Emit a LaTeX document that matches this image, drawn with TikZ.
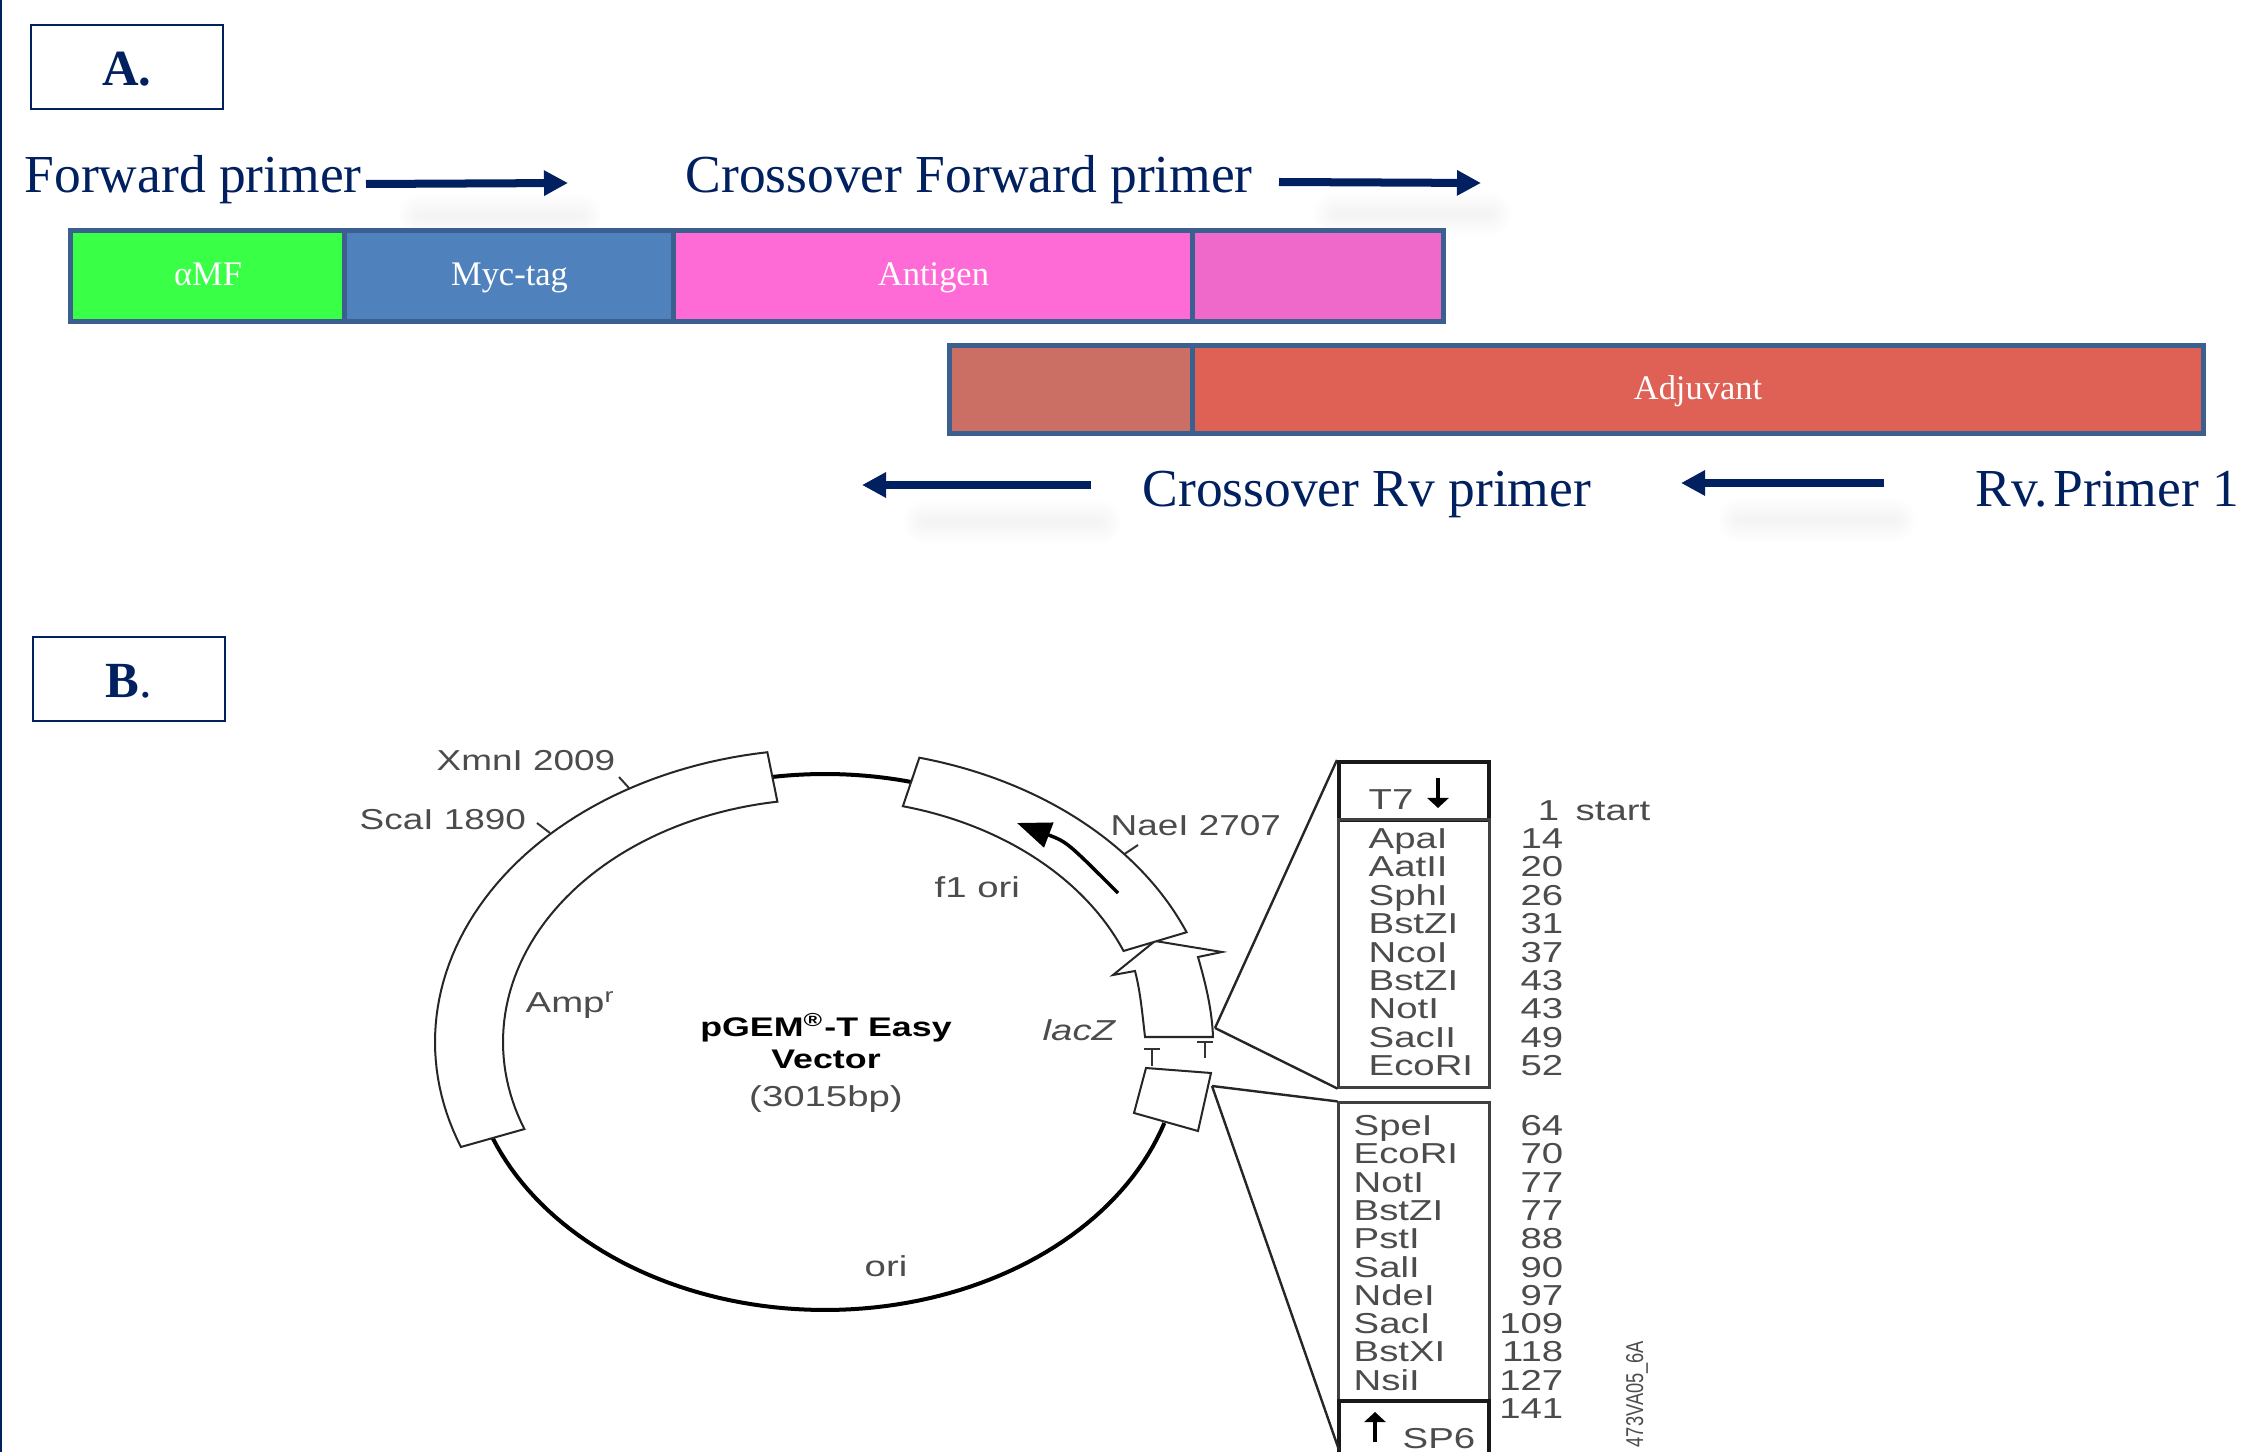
\documentclass[tikz,border=0pt]{standalone}
\usepackage{fontspec}
\usepackage{graphicx}
\setmainfont{Liberation Serif}
\newfontfamily\mapfont{Liberation Sans}
\usetikzlibrary{arrows.meta}
\definecolor{navy}{HTML}{002060}
\definecolor{barline}{HTML}{3B5F8F}
\definecolor{maptext}{gray}{0.3}
% the vector map is stretched sideways
\newcommand{\mapwide}[1]{\scalebox{1.33}[1]{#1}}
\newcommand{\mapsite}[1]{\scalebox{1.28}[1]{#1}}
\newcommand{\ringband}[2]{%
  \draw[band] plot[domain=#1:#2,samples=60] ({825+390*cos(\x)},{1042+293*sin(\x)})
    -- plot[domain=#2:#1,samples=60] ({825+322*cos(\x)},{1042+243*sin(\x)}) -- cycle;}
\tikzset{
  panelbox/.style={draw=navy,line width=0.015cm,fill=white,text=navy,minimum width=1.92cm,
    minimum height=0.84cm,inner sep=0pt,text height=10.6pt,text depth=0pt,
    font=\fontsize{14.4}{16}\selectfont\bfseries},
  primer/.style={text=navy,anchor=base west,inner sep=0pt,font=\fontsize{15.2}{18}\selectfont},
  primerarrow/.style={navy,line width=0.08cm,-{Triangle[length=0.24cm,width=0.24cm]}},
  barseg/.style={draw=barline,line width=0.05cm,text=white,inner sep=0pt,text height=6.5pt,
    text depth=1pt,font=\fontsize{9.8}{12}\selectfont},
  band/.style={draw=black!85,line width=0.02cm,fill=white,line join=miter},
  backbone/.style={black,line width=0.04cm},
  thinline/.style={black!80,line width=0.02cm},
  leader/.style={black!85,line width=0.024cm},
  tablebox/.style={draw=black!75,line width=0.03cm,minimum width=1.5cm,inner sep=0pt},
  maplabel/.style={text=maptext,inner sep=0pt,text height=6pt,text depth=0pt,
    font=\mapfont\fontsize{8.2}{10}\selectfont},
  maptitle/.style={text=black,inner sep=0pt,text height=6pt,text depth=0pt,
    font=\mapfont\fontsize{7.65}{10}\selectfont\bfseries},
  smallarrow/.style={black,line width=0.035cm,-{Triangle[length=0.1cm,width=0.21cm]}}
}
\begin{document}
\begin{tikzpicture}[x=0.01cm,y=-0.01cm]
  \useasboundingbox (0,0) rectangle (2244,1452);
  \clip (0,0) rectangle (2244,1452);
  \fill[white] (0,0) rectangle (2244,1452);
  \coordinate (edgetop) at (1,0);
  \coordinate (edgebot) at (1,1452);
  \draw[navy,line width=0.02cm] (edgetop) -- (edgebot);

  % panel A
  \node[panelbox] (panelA) at (127,67) {A.};
  \node[primer] (fwd) at (24,193) {Forward primer};
  \node[primer] (crossfwd) at (685,193) {Crossover Forward primer};
  \node[primer] (crossrv) at (1142,507) {Crossover Rv primer};
  \node[primer] (rvone) at (1975,507) {Rv.\hspace{1.6pt}Primer 1};

  % soft shadows under the primer arrows
  \foreach \sx/\ex/\sy in {420/580/216,1335/1490/214,925/1100/522,1740/1895/520}
    \foreach \w in {0.04,0.08,...,0.48}
      \draw[black,opacity=0.005,line width=\w cm,line cap=round] (\sx,\sy) -- (\ex,\sy);

  \coordinate (fwdA) at (366,184);
  \coordinate (fwdB) at (568,183);
  \coordinate (cfwdA) at (1279,182);
  \coordinate (cfwdB) at (1481,183);
  \coordinate (crvA) at (1091,485);
  \coordinate (crvB) at (862,485);
  \coordinate (rvA) at (1884,483);
  \coordinate (rvB) at (1681,483);
  \draw[primerarrow] (fwdA) -- (fwdB);
  \draw[primerarrow] (cfwdA) -- (cfwdB);
  \draw[primerarrow] (crvA) -- (crvB);
  \draw[primerarrow] (rvA) -- (rvB);

  \node[barseg,fill={rgb,255:red,57;green,255;blue,70},minimum width=2.74cm,minimum height=0.9cm] (amf) at (208,276) {αMF};
  \node[barseg,fill={rgb,255:red,79;green,129;blue,189},minimum width=3.29cm,minimum height=0.9cm] (myc) at (509.5,276) {Myc-tag};
  \node[barseg,fill={rgb,255:red,255;green,107;blue,214},minimum width=5.19cm,minimum height=0.9cm] (antigen) at (933.5,276) {Antigen};
  \node[barseg,fill={rgb,255:red,238;green,105;blue,201},minimum width=2.5cm,minimum height=0.9cm] (overlapA) at (1318,276) {};
  \node[barseg,fill={rgb,255:red,203;green,110;blue,99},minimum width=2.43cm,minimum height=0.88cm] (overlapB) at (1071.5,389.5) {};
  \node[barseg,fill={rgb,255:red,223;green,96;blue,84},minimum width=10.1cm,minimum height=0.88cm] (adjuvant) at (1698,389.5) {Adjuvant};

  % panel B
  \node[panelbox] (panelB) at (129,679) {B\textmd{.}};

  % vector ring
  \draw[backbone] plot[domain=17.6:159,samples=80] ({825+356*cos(\x)},{1042+268*sin(\x)});
  \draw[backbone] plot[domain=261.5:284,samples=20] ({825+356*cos(\x)},{1042+268*sin(\x)});

  \coordinate (xmnA) at (629,788);
  \coordinate (xmnB) at (619,777);
  \coordinate (scaA) at (550,833);
  \coordinate (scaB) at (537,823);
  \coordinate (naeA) at (1123,855);
  \coordinate (naeB) at (1138,845);
  \draw[thinline] (xmnA) -- (xmnB);
  \draw[thinline] (scaA) -- (scaB);
  \draw[thinline] (naeA) -- (naeB);

  % lacZ arrow, under the f1 ori band
  \draw[band] (1145,1037) .. controls (1142,1010) and (1140,990) .. (1135,971) -- (1113,975) -- (1155,941)
    -- (1222,952) -- (1198,957) .. controls (1206,985) and (1212,1010) .. (1213,1037) -- cycle;
  \ringband{159}{261.5}
  \ringband{284}{338}
  \draw[band] (1146,1068) -- (1211,1073) -- (1198,1131) -- (1134,1113) -- cycle;

  \coordinate (oriA) at (1118,893);
  \coordinate (oriB) at (1017,823);
  \draw[black,line width=0.035cm,-{Triangle[length=0.34cm,width=0.26cm]}] (oriA) .. controls (1067,842) .. (oriB);

  % terminators
  \draw[thinline] (1152,1049) -- (1152,1066) (1144,1049) -- (1160,1049);
  \draw[thinline] (1205,1041) -- (1205,1058) (1197,1042) -- (1213,1042);

  % labels on the map
  \node[maplabel,anchor=west] (xmn) at (436,760) {\mapsite{XmnI 2009}};
  \node[maplabel,anchor=west] (sca) at (359,819) {\mapsite{ScaI 1890}};
  \node[maplabel,anchor=west] (nae) at (1110,825) {\mapsite{NaeI 2707}};
  \node[maplabel,anchor=west] (fori) at (934,887) {\mapwide{f1 ori}};
  \node[maplabel,anchor=west] (lacz) at (1042,1030) {\mapwide{\itshape lacZ}};
  \node[maplabel,anchor=west] (amp) at (525,1002) {\mapwide{Amp\textsuperscript{r}}};
  \node[maplabel,anchor=west] (ori) at (864,1266) {\mapwide{ori}};
  \node[maptitle] (title) at (826,1026) {\mapwide{pGEM\textsuperscript{®}-T Easy}};
  \node[maptitle] (titleb) at (826,1058) {\mapwide{Vector}};
  \node[maplabel] (size) at (826,1096) {\mapwide{(3015bp)}};

  % site tables
  \node[tablebox,minimum height=0.58cm,line width=0.04cm,draw=black!90] (tsev) at (1414,791) {};
  \node[tablebox,minimum height=2.67cm] (tabup) at (1414,953.5) {};
  \node[tablebox,minimum height=2.98cm] (tablow) at (1414,1252) {};
  \node[tablebox,minimum height=0.6cm,line width=0.04cm,draw=black!90] (spsix) at (1414,1431) {};

  \coordinate (lactip) at (1215,1028);
  \coordinate (spstip) at (1212,1086);
  \coordinate (spsend) at (1339,1450);
  \draw[leader] (lactip) -- (tsev.north west);
  \draw[leader] (lactip) -- (tabup.south west);
  \draw[leader] (spstip) -- (tablow.north west);
  \draw[leader] (spstip) -- (spsend);

  \node[maplabel,anchor=west] (tsevlab) at (1368,799) {\mapwide{T7}};
  \node[maplabel,anchor=west] (spsixlab) at (1402,1438) {\mapwide{SP6}};
  \coordinate (tsevA) at (1438,778);
  \coordinate (tsevB) at (1438,808);
  \coordinate (spsA) at (1375,1442);
  \coordinate (spsB) at (1375,1412);
  \draw[smallarrow] (tsevA) -- (tsevB);
  \draw[smallarrow] (spsA) -- (spsB);

  \node[maplabel,anchor=east] (numstart) at (1560,810) {\mapwide{1}};
  \node[maplabel,anchor=west] (start) at (1575,810) {\mapwide{start}};
  \foreach \enz/\num [count=\i from 0] in {ApaI/14,AatII/20,SphI/26,BstZI/31,NcoI/37,BstZI/43,NotI/43,SacII/49,EcoRI/52} {
    \node[maplabel,anchor=west] (upname\i) at (1368,838+28.4*\i) {\mapwide{\enz}};
    \node[maplabel,anchor=east] (upnum\i) at (1564,838+28.4*\i) {\mapwide{\num}};
  }
  \foreach \enz/\num [count=\i from 0] in {SpeI/64,EcoRI/70,NotI/77,BstZI/77,PstI/88,SalI/90,NdeI/97,SacI/109,BstXI/118,NsiI/127} {
    \node[maplabel,anchor=west] (lowname\i) at (1353,1125+28.3*\i) {\mapwide{\enz}};
    \node[maplabel,anchor=east] (lownum\i) at (1564,1125+28.3*\i) {\mapwide{\num}};
  }
  \node[maplabel,anchor=east] (lownumlast) at (1564,1408) {\mapwide{141}};
  \node[rotate=90,text=maptext,inner sep=0pt,font=\mapfont\fontsize{5.2}{6}\selectfont] (figcode) at (1637,1394) {\scalebox{1}[1.33]{473VA05\_6A}};
\end{tikzpicture}
\end{document}
